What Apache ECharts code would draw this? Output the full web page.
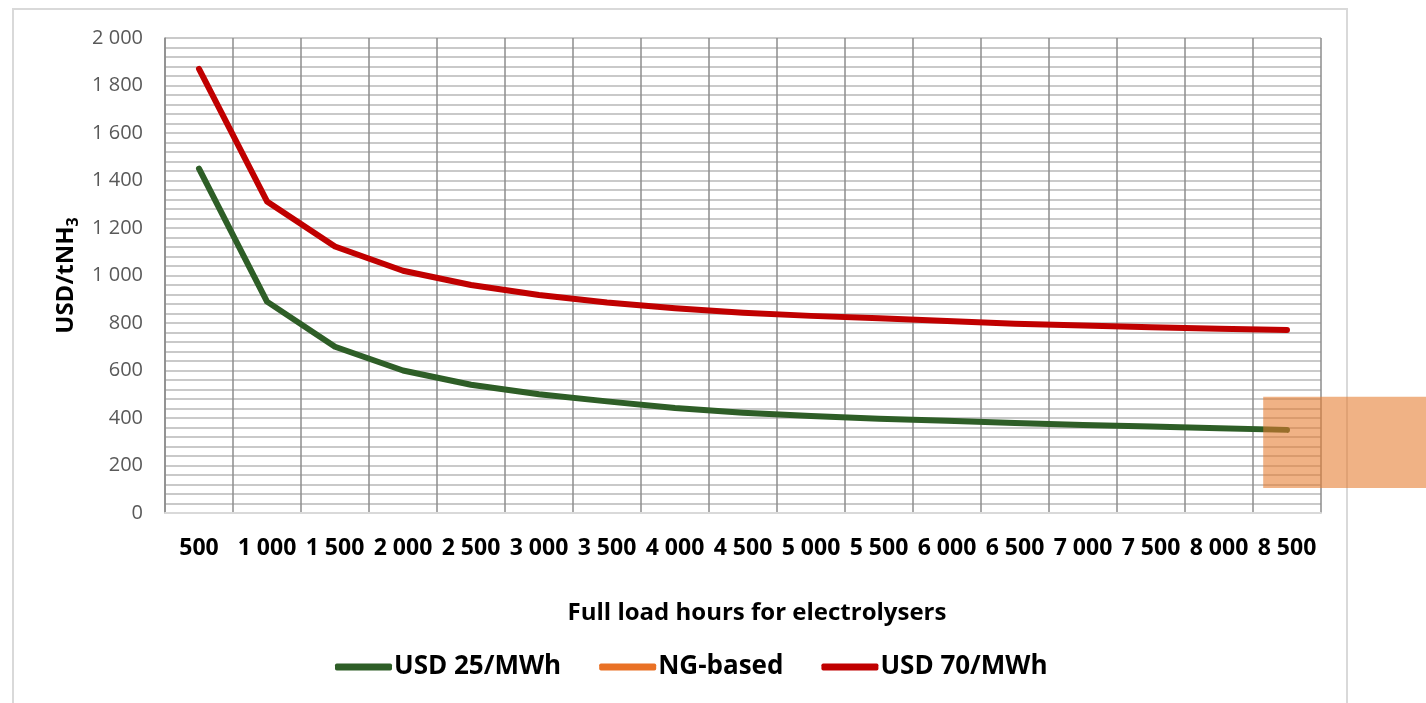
<!DOCTYPE html>
<html>
<head>
<meta charset="utf-8">
<script src="https://cdn.jsdelivr.net/npm/echarts@6/dist/echarts.min.js"></script>
<style>
  html, body { margin: 0; padding: 0; background: #ffffff; }
  #frame { position: absolute; left: 12px; top: 8px; width: 1336px; height: 720px; border: 2px solid #d9d9d9; box-sizing: border-box; }
  #chart { position: absolute; left: 0; top: 0; width: 1426px; height: 703px; }
</style>
</head>
<body>
<div id="frame"></div>
<div id="chart"></div>
<script>
// ---- data ----
const categories = ['500','1 000','1 500','2 000','2 500','3 000','3 500','4 000','4 500','5 000','5 500','6 000','6 500','7 000','7 500','8 000','8 500'];
const usd25 = [1450, 890, 700, 600, 540, 500, 470, 442, 422, 408, 397, 388, 379, 371, 364, 357, 350];
const usd70 = [1870, 1312, 1122, 1020, 960, 918, 886, 862, 843, 830, 820, 808, 797, 789, 782, 776, 771];
const ngCategory = '8 500';
const ngRange = [105, 490];   // low, high (USD/tNH3)
const seriesNames = ['USD 25/MWh', 'NG-based', 'USD 70/MWh'];
const yTicks = { min: 0, max: 2000, interval: 200 };

const chart = echarts.init(document.getElementById('chart'), null, { renderer: 'canvas' });
const font = '"Open Sans", "Liberation Sans", sans-serif';

const option = {
  backgroundColor: 'transparent',
  animation: false,
  grid: { left: 165, top: 38, right: 105, bottom: 190, containLabel: false },
  legend: {
    bottom: 18,
    left: 330,
    itemGap: 38,
    itemWidth: 57,
    itemHeight: 7,
    textStyle: { fontFamily: font, fontSize: 26, fontWeight: 'bold', color: '#000000', padding: [0, 0, 0, -3] },
    data: [
      { name: seriesNames[0], icon: 'roundRect', itemStyle: { color: '#2E5E27' } },
      { name: seriesNames[1], icon: 'roundRect', itemStyle: { color: '#E97125' } },
      { name: seriesNames[2], icon: 'roundRect', itemStyle: { color: '#C00000' } }
    ]
  },
  xAxis: {
    type: 'category',
    data: categories,
    boundaryGap: true,
    name: 'Full load hours for electrolysers',
    nameLocation: 'middle',
    nameGap: 88,
    nameTextStyle: { fontFamily: font, fontSize: 24, fontWeight: 'bold', color: '#000000', padding: [0, 0, 0, 28] },
    axisLine: { show: true, lineStyle: { color: '#d9d9d9', width: 2 } },
    axisTick: { show: false },
    axisLabel: { interval: 0, margin: 24, fontFamily: font, fontSize: 23, fontWeight: 'bold', color: '#000000' },
    splitLine: { show: true, interval: 0, lineStyle: { color: '#8c8c8c', width: 1.5 } }
  },
  yAxis: {
    type: 'value',
    min: yTicks.min,
    max: yTicks.max,
    interval: yTicks.interval,
    name: '{a|USD/tNH}{s|3}',
    nameLocation: 'middle',
    nameGap: 80,
    nameTextStyle: {
      rich: {
        a: { fontFamily: font, fontSize: 24, fontWeight: 'bold', color: '#000000', lineHeight: 30, verticalAlign: 'middle' },
        s: { fontFamily: font, fontSize: 16, fontWeight: 'bold', color: '#000000', lineHeight: 16, verticalAlign: 'bottom' }
      }
    },
    axisLine: { show: true, lineStyle: { color: '#8c8c8c', width: 1.5 } },
    axisTick: { show: false },
    axisLabel: {
      margin: 22,
      fontFamily: font, fontSize: 20, color: '#595959',
      formatter: v => String(v).replace(/\B(?=(\d{3})+(?!\d))/g, ' ')
    },
    splitLine: { show: true, lineStyle: { color: '#b8b8b8', width: 1.5 } },
    minorTick: { show: false, splitNumber: 5 },
    minorSplitLine: { show: true, lineStyle: { color: '#b8b8b8', width: 1.5 } }
  },
  series: [
    {
      name: seriesNames[0], type: 'line', data: usd25,
      symbol: 'none', smooth: false,
      lineStyle: { color: '#2E5E27', width: 6, cap: 'round', join: 'round' },
      itemStyle: { color: '#2E5E27' }, z: 3
    },
    {
      name: seriesNames[1], type: 'custom',
      itemStyle: { color: '#E97125' },
      data: [[ngCategory, ngRange[0], ngRange[1]]],
      encode: { x: 0, y: [1, 2] },
      z: 10,
      renderItem: function (params, api) {
        const hi = api.coord([api.value(0), api.value(2)]);
        const lo = api.coord([api.value(0), api.value(1)]);
        const band = api.size([1, 0])[0];
        const x0 = hi[0] - band * 0.35;
        return {
          type: 'rect',
          shape: { x: x0, y: hi[1], width: api.getWidth() - x0, height: lo[1] - hi[1] },
          style: { fill: 'rgba(230,122,44,0.58)' }
        };
      }
    },
    {
      name: seriesNames[2], type: 'line', data: usd70,
      symbol: 'none', smooth: false,
      lineStyle: { color: '#C00000', width: 6, cap: 'round', join: 'round' },
      itemStyle: { color: '#C00000' }, z: 3
    }
  ]
};
chart.setOption(option);
</script>
</body>
</html>
